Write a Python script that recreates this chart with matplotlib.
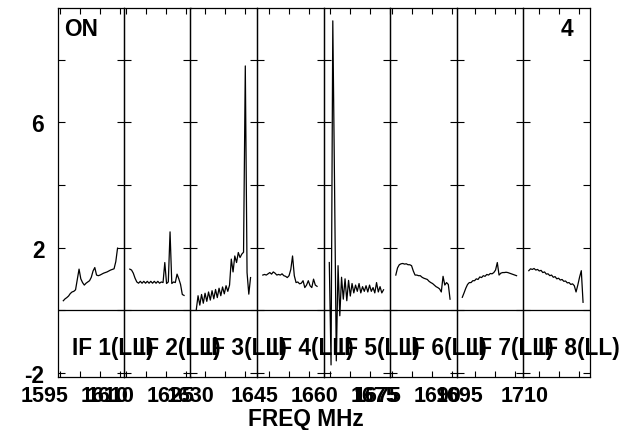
import numpy as np
import matplotlib
matplotlib.use("Agg")
import matplotlib.pyplot as plt
from matplotlib.transforms import ScaledTranslation
from matplotlib.ticker import FixedLocator

plt.rcParams['font.family'] = ['Liberation Sans', 'DejaVu Sans']
plt.rcParams['font.weight'] = 'bold'
plt.rcParams['axes.unicode_minus'] = False

# ---- spectra: one 32-channel LL spectrum per IF ----
if_labels = ["IF 1(LL)", "IF 2(LL)", "IF 3(LL)", "IF 4(LL)",
             "IF 5(LL)", "IF 6(LL)", "IF 7(LL)", "IF 8(LL)"]
if_start = [1595.83, 1611.00, 1627.75, 1643.33, 1659.90, 1675.93, 1691.93, 1707.33]  # MHz, first channel
chan_width = 0.4375  # MHz

if1 = [0.30, 0.36, 0.40, 0.45, 0.53, 0.58, 0.60, 0.65, 0.98, 1.31, 1.00, 0.88, 0.80, 0.86, 0.90, 0.94,
       1.05, 1.25, 1.36, 1.12, 1.10, 1.12, 1.15, 1.18, 1.20, 1.22, 1.25, 1.28, 1.30, 1.32, 1.55, 1.98]
if2 = [1.31, 1.28, 1.18, 1.02, 0.90, 0.86, 0.92, 0.86, 0.92, 0.86, 0.92, 0.86, 0.92, 0.86, 0.92, 0.86,
       0.92, 0.86, 0.90, 0.88, 1.52, 0.85, 0.90, 2.50, 0.85, 0.90, 0.88, 1.15, 1.00, 0.82, 0.50, 0.47]
if3 = [0.02, 0.46, 0.16, 0.50, 0.22, 0.54, 0.28, 0.58, 0.32, 0.62, 0.36, 0.66, 0.40, 0.70, 0.46, 0.74,
       0.52, 0.78, 0.60, 0.80, 1.63, 1.22, 1.73, 1.52, 1.84, 1.68, 1.79, 1.85, 7.80, 1.20, 0.51, 1.04]
if4 = [1.12, 1.14, 1.12, 1.16, 1.20, 1.15, 1.22, 1.18, 1.12, 1.14, 1.12, 1.16, 1.10, 1.08, 1.04, 1.10,
       1.30, 1.73, 1.10, 0.88, 0.90, 0.84, 0.86, 0.94, 0.72, 0.80, 0.94, 0.78, 0.72, 0.99, 0.80, 0.76]
if5 = [1.52, -1.75, 9.24, 4.00, -1.62, 1.42, -0.18, 1.05, 0.35, 1.00, 0.30, 0.95, 0.45, 0.85, 0.55, 0.80,
       0.60, 0.85, 0.55, 0.75, 0.60, 0.78, 0.58, 0.80, 0.60, 0.72, 0.55, 0.88, 0.58, 0.75, 0.55, 0.65]
if6 = [1.12, 1.35, 1.45, 1.48, 1.49, 1.47, 1.48, 1.45, 1.45, 1.42, 1.25, 1.12, 1.12, 1.10, 1.10, 1.05,
       1.02, 1.00, 0.98, 0.92, 0.88, 0.85, 0.80, 0.75, 0.72, 0.68, 0.58, 1.08, 0.80, 0.88, 0.82, 0.35]
if7 = [0.41, 0.55, 0.70, 0.82, 0.88, 0.88, 0.94, 0.94, 1.00, 0.98, 1.06, 1.04, 1.10, 1.08, 1.14, 1.12,
       1.17, 1.16, 1.20, 1.28, 1.52, 1.12, 1.18, 1.20, 1.20, 1.21, 1.20, 1.18, 1.16, 1.14, 1.12, 1.10]
if8 = [1.26, 1.32, 1.30, 1.33, 1.28, 1.30, 1.25, 1.27, 1.20, 1.22, 1.15, 1.16, 1.10, 1.12, 1.05, 1.07,
       1.00, 1.02, 0.96, 0.98, 0.92, 0.93, 0.87, 0.88, 0.82, 0.84, 0.78, 0.58, 0.80, 1.05, 1.26, 0.25]
spectra = [if1, if2, if3, if4, if5, if6, if7, if8]

y_major = [-2, 2, 6]
y_minor = [0, 4, 8]
y_range = (-2.12, 9.66)

# ---- layout (pixels) ----
W, H, DPI = 627, 431, 100
x_left, x_right, y_top, y_bottom = 57.5, 589.5, 8.7, 377.5
n_if = len(spectra)
pw = (x_right - x_left) / n_if
band_margin = 1.45     # MHz of empty axis before the first channel
panel_span = 16.625    # MHz shown per panel
tick_step = 5.0
text_size = 16.3
tick_size = 15.5

fig = plt.figure(figsize=(W / DPI, H / DPI), dpi=DPI)
fig.patch.set_facecolor('white')
label_shift = ScaledTranslation(-15 / DPI, 0, fig.dpi_scale_trans)

for i, (spec, lab) in enumerate(zip(spectra, if_labels)):
    ax = fig.add_axes([(x_left + i * pw) / W, 1 - y_bottom / H,
                       pw / W, (y_bottom - y_top) / H])
    ax.patch.set_visible(False)
    freqs = if_start[i] + chan_width * np.arange(len(spec))
    ax.plot(freqs, spec, color='black', lw=0.9)
    ax.axhline(0, color='black', lw=0.9)

    lo = if_start[i] - band_margin
    ax.set_xlim(lo, lo + panel_span)
    ax.set_ylim(*y_range)

    ax.yaxis.set_major_locator(FixedLocator(y_major))
    ax.yaxis.set_minor_locator(FixedLocator(y_minor))
    ax.tick_params(axis='x', which='both', direction='in', top=True, bottom=True,
                   length=4.0, width=0.8, pad=6.0)
    ax.tick_params(axis='y', which='both', direction='in', left=True, right=True,
                   length=5.0, width=0.8, pad=9.5, labelsize=text_size,
                   labelleft=(i == 0))

    ticks = np.arange(np.ceil(lo / tick_step) * tick_step, lo + panel_span + 1e-9, tick_step)
    ax.set_xticks(ticks)
    ax.set_xticklabels([f"{t:.0f}" if k % 3 == 0 else "" for k, t in enumerate(ticks)],
                       fontsize=tick_size, fontweight='bold')
    for tk in ax.xaxis.get_major_ticks():
        tk.label1.set_transform(tk.label1.get_transform() + label_shift)

    for s in ax.spines.values():
        s.set_linewidth(0.9)

    ax.text(15 / pw, (y_bottom - 349) / (y_bottom - y_top), lab, transform=ax.transAxes,
            ha='left', va='center', fontsize=text_size, fontweight='bold', clip_on=False)

fig.text(64 / W, 1 - 29 / H, "ON", ha='left', va='center', fontsize=text_size, fontweight='bold')
fig.text(573 / W, 1 - 29 / H, "4", ha='right', va='center', fontsize=text_size, fontweight='bold')
fig.text(306 / W, 1 - 420 / H, "FREQ MHz", ha='center', va='center', fontsize=text_size, fontweight='bold')

fig.savefig("out.png", dpi=DPI)
